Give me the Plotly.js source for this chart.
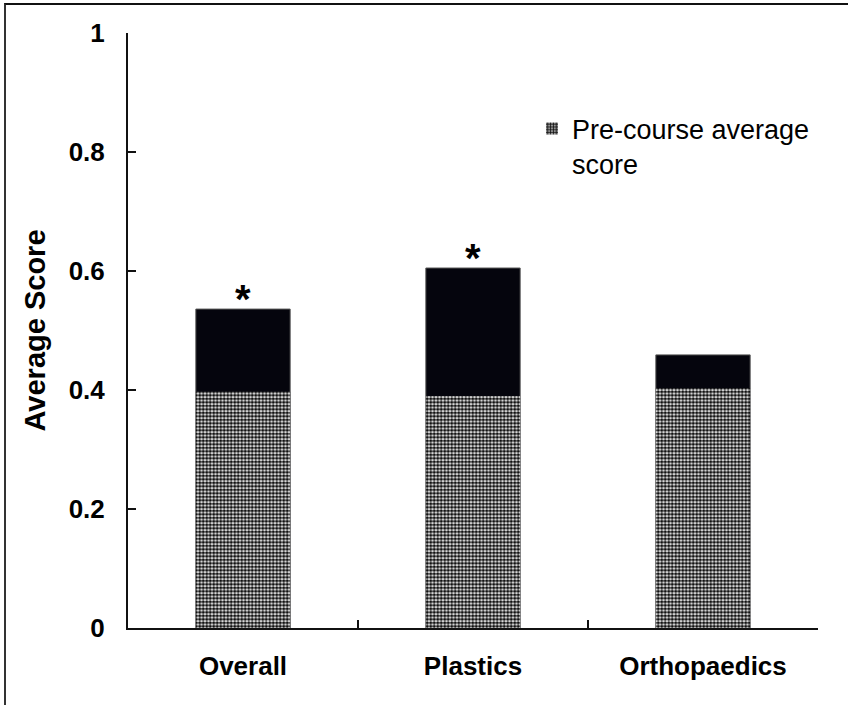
<!DOCTYPE html>
<html>
<head>
<meta charset="utf-8">
<script src="https://cdn.plot.ly/plotly-3.0.1.min.js"></script>
<style>
  html, body { margin: 0; padding: 0; background: #fff; }
  #wrap { position: relative; width: 848px; height: 705px; overflow: hidden; }
  #frame { position: absolute; left: 4px; top: 3px; width: 900px; height: 800px;
           border-top: 2px solid #111; border-left: 2px solid #333; pointer-events: none; }
  #chart { position: absolute; left: 0; top: 0; width: 848px; height: 705px; }
</style>
</head>
<body>
<div id="wrap">
  <div id="chart"></div>
  <div id="frame"></div>
</div>
<script>
// Course groups and their average scores
const categories = ['Overall', 'Plastics', 'Orthopaedics'];
const preScores = [0.397, 0.390, 0.403];   // before the course
const postScores = [0.536, 0.605, 0.459];  // after the course
const sigMarks = ['*', '*', ''];           // significant change
const yTickVals = [0, 0.2, 0.4, 0.6, 0.8, 1];
const yTickText = ['0', '0.2', '0.4', '0.6', '0.8', '1'];

const FONT = '"Liberation Sans", Arial, sans-serif';

// Post-course bars sit behind; the pre-course part is overlaid from zero.
const postTrace = {
  type: 'bar',
  x: categories,
  y: postScores,
  name: 'Post-course average score',
  showlegend: false,
  marker: { color: '#05050d', line: { color: '#555', width: 1 } },
  hoverinfo: 'skip'
};

const preTrace = {
  type: 'bar',
  x: categories,
  y: preScores,
  name: 'Pre-course average<br>score',
  marker: {
    color: '#ffffff',
    line: { width: 0 },
    pattern: { shape: '.', size: 3.5, solidity: 0.68, fgcolor: '#111', bgcolor: '#fff', fillmode: 'replace' }
  },
  hoverinfo: 'skip'
};

const annotations = categories.map((c, i) => ({
  x: c, y: postScores[i], xref: 'x', yref: 'y',
  text: sigMarks[i], showarrow: false, yanchor: 'bottom', yshift: -14,
  font: { family: FONT, size: 40, color: '#000', weight: 'bold' }
})).filter(a => a.text !== '');

const layout = {
  width: 848, height: 705,
  margin: { l: 128, r: 30, t: 33, b: 77, autoexpand: false },
  paper_bgcolor: '#fff', plot_bgcolor: '#fff',
  barmode: 'overlay',
  bargap: 0.59,
  font: { family: FONT, color: '#000' },
  showlegend: true,
  legend: {
    x: 0.5855, y: 0.88, xanchor: 'left', yanchor: 'top',
    valign: 'top',
    bgcolor: 'rgba(0,0,0,0)',
    font: { family: FONT, size: 27, color: '#000' },
    itemwidth: 30
  },
  xaxis: {
    type: 'category',
    range: [-0.5, 2.5],
    showline: true, linecolor: '#111', linewidth: 2,
    ticks: 'inside', tickson: 'boundaries', ticklen: 8, tickwidth: 2, tickcolor: '#111',
    showgrid: false, zeroline: false,
    tickfont: { family: FONT, size: 26, color: '#000', weight: 'bold' },
    ticklabelstandoff: 14
  },
  yaxis: {
    range: [0, 1],
    tickvals: yTickVals, ticktext: yTickText,
    showline: true, linecolor: '#111', linewidth: 2,
    ticks: 'inside', ticklen: 8, tickwidth: 2, tickcolor: '#111',
    showgrid: false, zeroline: false,
    tickfont: { family: FONT, size: 26, color: '#000', weight: 'bold' },
    ticklabelstandoff: 16,
    title: { text: 'Average Score', font: { family: FONT, size: 29, color: '#000', weight: 'bold' }, standoff: 14 }
  },
  annotations: annotations
};

Plotly.newPlot('chart', [postTrace, preTrace], layout, { displayModeBar: false, staticPlot: true });
</script>
</body>
</html>
